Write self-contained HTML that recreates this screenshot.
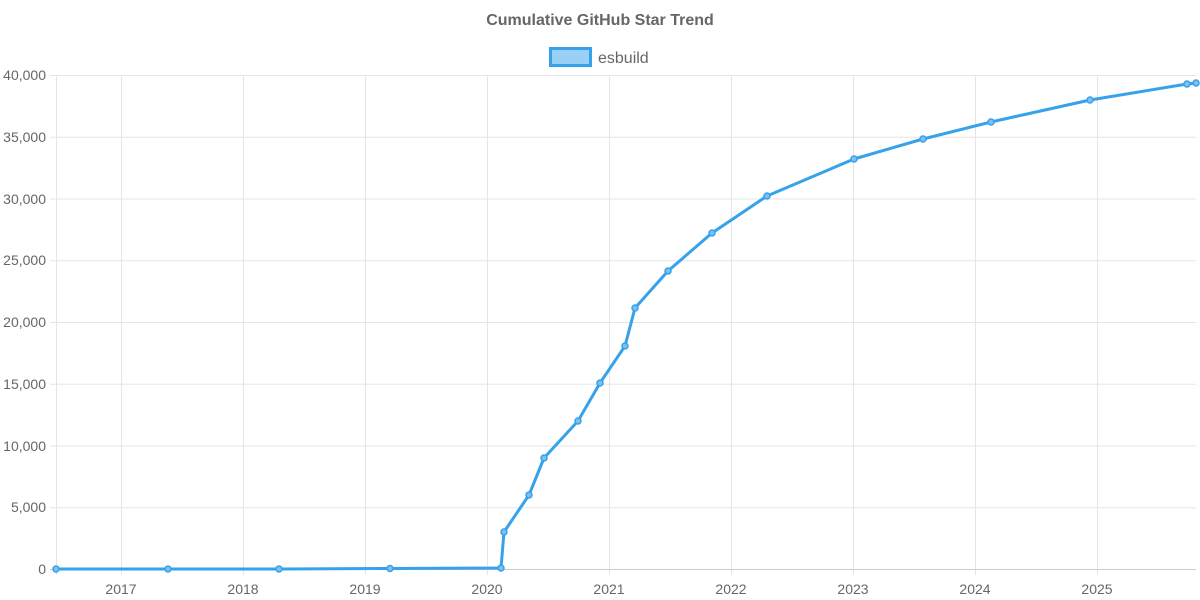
<!DOCTYPE html>
<html><head><meta charset="utf-8"><style>
html,body{margin:0;padding:0;background:#fff;}
svg{display:block;font-family:"Liberation Sans",Arial,sans-serif;}
</style></head><body>
<svg width="1200" height="600" xmlns="http://www.w3.org/2000/svg">
<text x="600" y="25" text-anchor="middle" font-size="16" font-weight="bold" fill="#666">Cumulative GitHub Star Trend</text>
<rect x="550.5" y="48.5" width="40" height="17" fill="#9ad0f5" stroke="#36a2eb" stroke-width="3"/>
<text x="598" y="63" font-size="16" fill="#666">esbuild</text>
<g stroke="#e5e5e5" stroke-width="1">
<line x1="50" y1="75.5" x2="1196" y2="75.5"/>
<line x1="50" y1="137.25" x2="1196" y2="137.25"/>
<line x1="50" y1="199" x2="1196" y2="199"/>
<line x1="50" y1="260.75" x2="1196" y2="260.75"/>
<line x1="50" y1="322.5" x2="1196" y2="322.5"/>
<line x1="50" y1="384.25" x2="1196" y2="384.25"/>
<line x1="50" y1="446" x2="1196" y2="446"/>
<line x1="50" y1="507.75" x2="1196" y2="507.75"/>
<line x1="56.5" y1="75" x2="56.5" y2="575"/>
<line x1="121.5" y1="75" x2="121.5" y2="575"/>
<line x1="243.5" y1="75" x2="243.5" y2="575"/>
<line x1="365.5" y1="75" x2="365.5" y2="575"/>
<line x1="487.5" y1="75" x2="487.5" y2="575"/>
<line x1="609.5" y1="75" x2="609.5" y2="575"/>
<line x1="731.5" y1="75" x2="731.5" y2="575"/>
<line x1="853.5" y1="75" x2="853.5" y2="575"/>
<line x1="975.5" y1="75" x2="975.5" y2="575"/>
<line x1="1097.5" y1="75" x2="1097.5" y2="575"/>
</g>
<line x1="50" y1="569.5" x2="1196" y2="569.5" stroke="#ccc"/>
<g font-size="14" fill="#666" text-anchor="end">
<text x="46" y="80">40,000</text>
<text x="46" y="142">35,000</text>
<text x="46" y="204">30,000</text>
<text x="46" y="265">25,000</text>
<text x="46" y="327">20,000</text>
<text x="46" y="389">15,000</text>
<text x="46" y="451">10,000</text>
<text x="46" y="512">5,000</text>
<text x="46" y="574">0</text>
</g>
<g font-size="14" fill="#666" text-anchor="middle">
<text x="121" y="594">2017</text><text x="243" y="594">2018</text><text x="365" y="594">2019</text>
<text x="487" y="594">2020</text><text x="609" y="594">2021</text><text x="731" y="594">2022</text>
<text x="853" y="594">2023</text><text x="975" y="594">2024</text><text x="1097" y="594">2025</text>
</g>
<polyline fill="none" stroke="#36a2eb" stroke-width="3" stroke-linejoin="round" points="56,569 168,569 279,569 390,568.5 501,568 504,532 529,495 544,458 578,421 600,383 625,346 635,308 668,271 712,233 767,196 854,159 923,139 991,122 1090,100 1187,84 1196,83"/>
<g fill="#7cc0f0" stroke="#36a2eb" stroke-width="1.5">
<circle cx="56" cy="569" r="3"/><circle cx="168" cy="569" r="3"/><circle cx="279" cy="569" r="3"/><circle cx="390" cy="568.5" r="3"/><circle cx="501" cy="568" r="3"/><circle cx="504" cy="532" r="3"/><circle cx="529" cy="495" r="3"/><circle cx="544" cy="458" r="3"/><circle cx="578" cy="421" r="3"/><circle cx="600" cy="383" r="3"/><circle cx="625" cy="346" r="3"/><circle cx="635" cy="308" r="3"/><circle cx="668" cy="271" r="3"/><circle cx="712" cy="233" r="3"/><circle cx="767" cy="196" r="3"/><circle cx="854" cy="159" r="3"/><circle cx="923" cy="139" r="3"/><circle cx="991" cy="122" r="3"/><circle cx="1090" cy="100" r="3"/><circle cx="1187" cy="84" r="3"/><circle cx="1196" cy="83" r="3"/>
</g>
</svg>
</body></html>
